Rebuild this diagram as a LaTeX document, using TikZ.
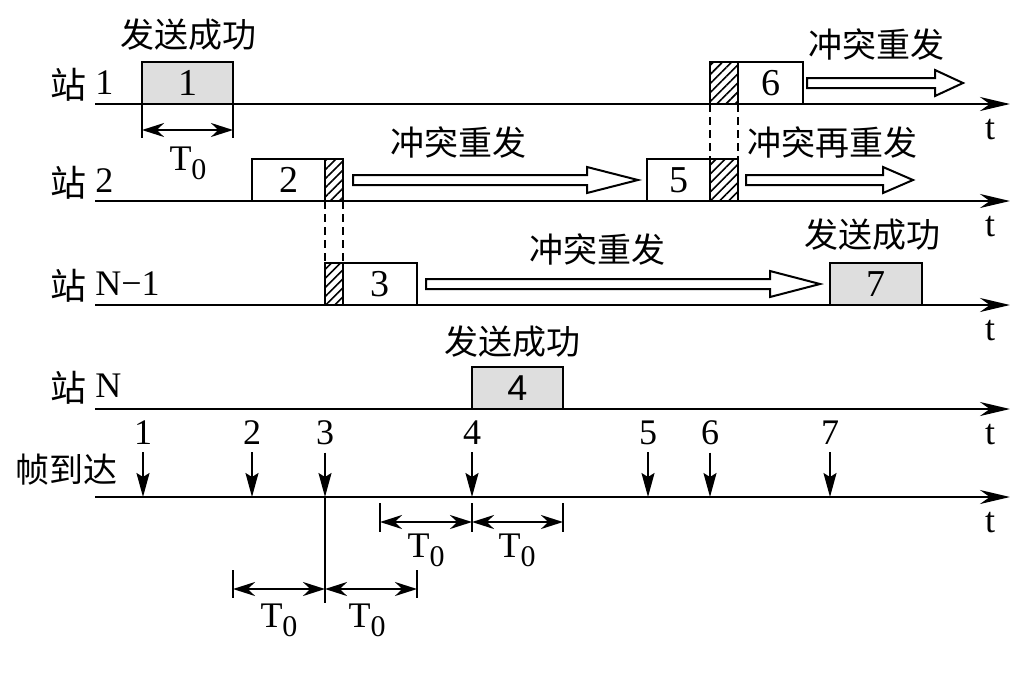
\documentclass[tikz,border=0pt]{standalone}
\usepackage{fontspec}
\setmainfont{Liberation Serif}
\setsansfont{Liberation Sans}
\newfontfamily\cjk{Noto Sans CJK SC}
\usepackage{tikz}
\usetikzlibrary{arrows.meta,positioning,patterns.meta,calc}

\newcommand{\Tzero}{T\raisebox{-0.55ex}{\fontsize{15}{15}\selectfont 0}}

\begin{document}
\begin{tikzpicture}[
  x=0.5pt, y=-0.5pt,
  axis/.style={line width=1.3pt, -{Stealth[length=15pt, width=7pt]}},
  frm/.style={draw, line width=1pt, inner sep=0pt, outer sep=0pt, minimum height=21pt,
              anchor=south west, font=\fontsize{19}{19}\selectfont},
  okfrm/.style={frm, fill=black!13},
  hatch/.style={draw, line width=1pt, inner sep=0pt, outer sep=0pt, minimum height=21pt,
                anchor=south west, pattern={Lines[angle=45, distance=3.2pt, line width=0.8pt]}},
  cn/.style={font=\cjk\fontsize{17}{17}\selectfont, inner sep=0pt},
  lab/.style={font=\fontsize{18}{18}\selectfont, inner sep=0pt, anchor=west},
  num/.style={font=\fontsize{18}{18}\selectfont, inner sep=0pt},
  dim/.style={{Stealth[length=11pt, width=7pt]}-{Stealth[length=11pt, width=7pt]}, line width=1.1pt},
  tick/.style={line width=0.8pt},
  drop/.style={-{Stealth[length=12pt, width=6.5pt, inset=2pt]}, line width=0.9pt},
  vline/.style={dash pattern=on 4pt off 2.5pt, line width=0.9pt},
  pics/hollow/.style 2 args={code={
    \draw[line width=1pt] (0,-5) -- (#1-#2,-5) -- (#1-#2,-13) -- (#1,0)
      -- (#1-#2,13) -- (#1-#2,5) -- (0,5) -- cycle;}},
]
\useasboundingbox (0,0) rectangle (1032,676);

% time axes
\coordinate (s1a) at (95,104); \coordinate (s1b) at (1010,104);
\coordinate (s2a) at (95,201); \coordinate (s2b) at (1010,201);
\coordinate (s3a) at (95,305); \coordinate (s3b) at (1010,305);
\coordinate (s4a) at (95,409); \coordinate (s4b) at (1010,409);
\coordinate (s5a) at (95,497); \coordinate (s5b) at (1010,497);
\foreach \s/\ty in {s1/130, s2/227, s3/331, s4/435, s5/523} {
  \draw[axis] (\s a) -- (\s b);
  \node[num] (t\s) at (990,\ty) {t};
}

% station labels
\node[lab] (l1) at (50,85) {{\cjk 站}\ \raisebox{0.12em}{1}};
\node[lab] (l2) at (50,183) {{\cjk 站}\ \raisebox{0.12em}{2}};
\node[lab] (l3) at (50,286) {{\cjk 站}\ \raisebox{0.12em}{N−1}};
\node[lab] (l4) at (50,388) {{\cjk 站}\ \raisebox{0.12em}{N}};
\node[cn, anchor=west] (l5) at (15,470) {帧到达};

% station 1
\node[okfrm, minimum width=45.5pt] (f1) at (s1a -| 142,0) {1};
\node[cn] (ok1) at (188,35) {发送成功};
\draw[tick] (f1.south west) -- ++(0,34);
\draw[tick] (f1.south east) -- ++(0,34);
\draw[dim] ([yshift=-13pt]f1.south west) -- ([yshift=-13pt]f1.south east);
\node[num] (tz1) at (188,163) {\Tzero};
\node[hatch, minimum width=14pt] (h6) at (s1a -| 710,0) {};
\node[frm, minimum width=32.5pt, right=0pt of h6] (f6) {6};
\pic at ([xshift=2pt]f6.east) {hollow={156}{28}};
\node[cn] (c6) at (876,45) {冲突重发};

% station 2
\node[frm, minimum width=36.5pt] (f2) at (s2a -| 252,0) {2};
\node[hatch, minimum width=9pt, right=0pt of f2] (h2) {};
\pic at ([xshift=5pt]h2.east) {hollow={285}{51}};
\node[cn] (c2) at (458,143) {冲突重发};
\node[frm, minimum width=31.5pt] (f5) at (s2a -| 647,0) {5};
\node[hatch, minimum width=14pt, right=0pt of f5] (h5) {};
\pic at ([xshift=4pt]h5.east) {hollow={167}{30}};
\node[cn] (c5) at (832,143) {冲突再重发};

% station N-1
\node[hatch, minimum width=9pt] (h3) at (s3a -| 325,0) {};
\node[frm, minimum width=37pt, right=0pt of h3] (f3) {3};
\pic at ([xshift=4.5pt]f3.east) {hollow={394}{50}};
\node[cn] (c3) at (597,250) {冲突重发};
\node[okfrm, minimum width=46pt] (f7) at (s3a -| 830,0) {7};
\node[cn] (ok7) at (872,235) {发送成功};

% station N
\node[okfrm, minimum width=45.5pt, font=\sffamily\fontsize{18}{18}\selectfont] (f4) at (s4a -| 472,0) {4};
\node[cn] (ok4) at (512,342) {发送成功};

% collisions
\draw[vline] (h2.south west) -- (h3.north west);
\draw[vline] (h2.south east) -- (h3.north east);
\draw[vline] (h6.south west) -- (h5.north west);
\draw[vline] (h6.south east) -- (h5.north east);

% frame arrivals
\foreach \k/\x in {1/143, 2/252, 3/325, 4/472, 5/648, 6/710, 7/830} {
  \node[num] (n\k) at (\x,433) {\k};
  \draw[drop] ([yshift=-3.5pt]n\k.south) -- (n\k |- s5a);
}

% T0 marks
\draw[tick] (n3 |- s5a) -- ++(0,106);
\coordinate (d1) at (380,503); \coordinate (d2) at (472,503); \coordinate (d3) at (563,503);
\foreach \p in {d1,d2,d3} \draw[tick] (\p) -- ++(0,29);
\draw[dim] ([yshift=-9.5pt]d1) -- ([yshift=-9.5pt]d2);
\draw[dim] ([yshift=-9.5pt]d2) -- ([yshift=-9.5pt]d3);
\node[num] (tz2) at (426,550) {\Tzero};
\node[num] (tz3) at (517,550) {\Tzero};
\coordinate (e1) at (233,570); \coordinate (e2) at (325,570); \coordinate (e3) at (417,570);
\foreach \p in {e1,e3} \draw[tick] (\p) -- ++(0,28);
\draw[dim] ([yshift=-9.5pt]e1) -- ([yshift=-9.5pt]e2);
\draw[dim] ([yshift=-9.5pt]e2) -- ([yshift=-9.5pt]e3);
\node[num] (tz4) at (279,620) {\Tzero};
\node[num] (tz5) at (367,620) {\Tzero};
\end{tikzpicture}
\end{document}
